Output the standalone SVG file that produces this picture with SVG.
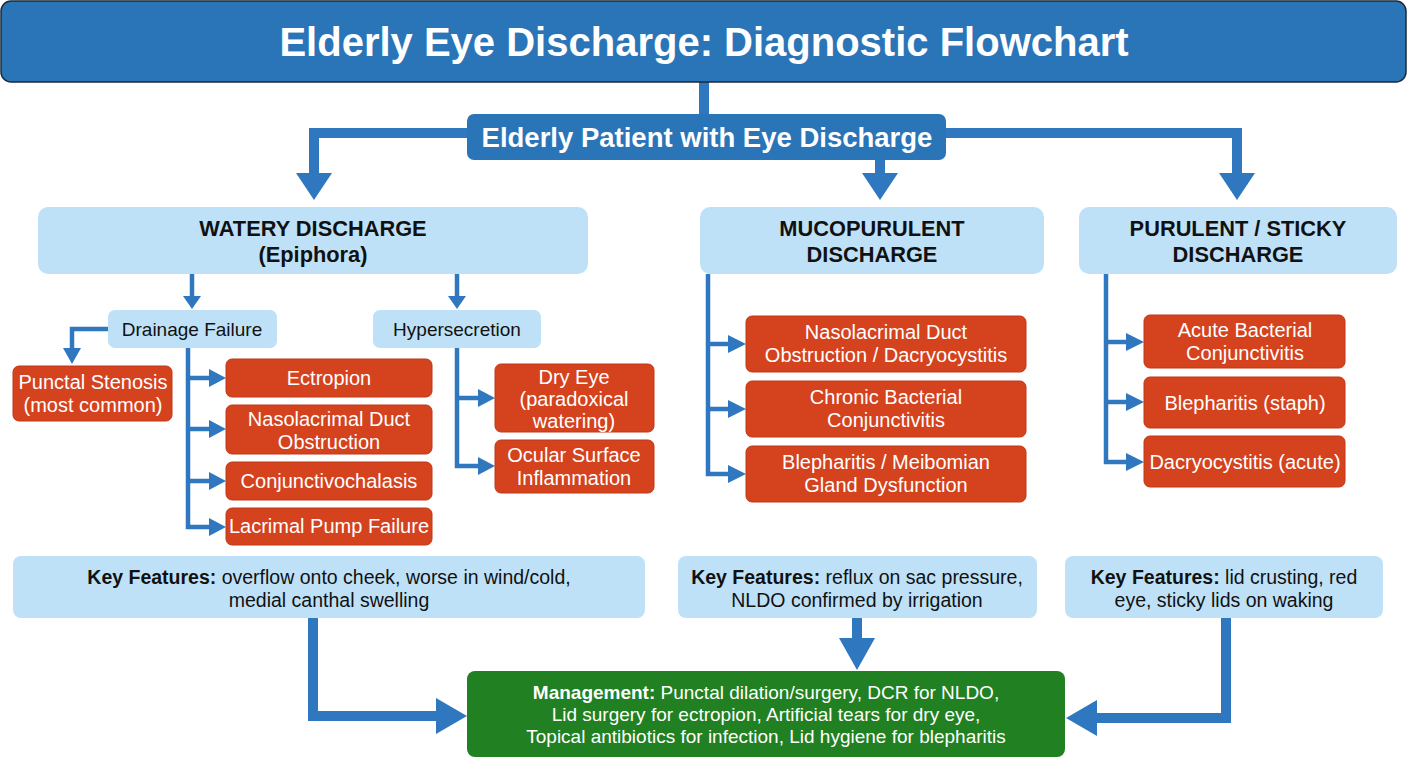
<svg xmlns="http://www.w3.org/2000/svg" width="1408" height="768" viewBox="0 0 1408 768">
<style>
text{font-family:"Liberation Sans",Arial,sans-serif;text-anchor:middle}
.title{fill:#2a74b8;stroke:#1b2a3a;stroke-width:1.5}
.blue{fill:#2a74b8}
.lb{fill:#bfe1f8}
.red{fill:#d4421e;stroke:#bf3817;stroke-width:1}
.green{fill:#218021}
.wt{fill:#fff;font-size:20px}
.mt{fill:#fff;font-size:19px}
.bt{fill:#111;font-size:19px}
.hd{fill:#111;font-size:21.8px;font-weight:bold}
.kf{fill:#111;font-size:19.5px}
.thick{fill:none;stroke:#2f78bf;stroke-width:10}
.thin{fill:none;stroke:#2f78bf;stroke-width:4.5}
.ah{fill:#2f78bf}
</style>
<rect width="1408" height="768" fill="#fff"/>
<g id="connectors">
<line class="thick" x1="704" y1="82" x2="704" y2="116"/>
<polyline class="thick" points="468,133 314,133 314,176"/>
<polygon class="ah" points="296,173 332,173 314,200"/>
<line class="thick" x1="880" y1="158" x2="880" y2="176"/>
<polygon class="ah" points="862,173 898,173 880,200"/>
<polyline class="thick" points="945,133 1237,133 1237,176"/>
<polygon class="ah" points="1219,173 1255,173 1237,200"/>
<line class="thin" x1="192" y1="274" x2="192" y2="299"/>
<polygon class="ah" points="183,296 201,296 192,309"/>
<line class="thin" x1="457" y1="274" x2="457" y2="299"/>
<polygon class="ah" points="448,296 466,296 457,309"/>
<polyline class="thin" points="110,329 72,329 72,351"/>
<polygon class="ah" points="63,348 81,348 72,364"/>
<polyline class="thin" points="188,348 188,527 212,527"/>
<line class="thin" x1="188" y1="378" x2="212" y2="378"/>
<line class="thin" x1="188" y1="429" x2="212" y2="429"/>
<line class="thin" x1="188" y1="481" x2="212" y2="481"/>
<polygon class="ah" points="209,369 209,387 226,378"/>
<polygon class="ah" points="209,420 209,438 226,429"/>
<polygon class="ah" points="209,472 209,490 226,481"/>
<polygon class="ah" points="209,518 209,536 226,527"/>
<polyline class="thin" points="457,348 457,466 481,466"/>
<line class="thin" x1="457" y1="398" x2="481" y2="398"/>
<polygon class="ah" points="478,389 478,407 495,398"/>
<polygon class="ah" points="478,457 478,475 495,466"/>
<polyline class="thin" points="708,274 708,474 731,474"/>
<line class="thin" x1="708" y1="344" x2="731" y2="344"/>
<line class="thin" x1="708" y1="409" x2="731" y2="409"/>
<polygon class="ah" points="728,335 728,353 746,344"/>
<polygon class="ah" points="728,400 728,418 746,409"/>
<polygon class="ah" points="728,465 728,483 746,474"/>
<polyline class="thin" points="1106,274 1106,462 1129,462"/>
<line class="thin" x1="1106" y1="342" x2="1129" y2="342"/>
<line class="thin" x1="1106" y1="402" x2="1129" y2="402"/>
<polygon class="ah" points="1126,333 1126,351 1144,342"/>
<polygon class="ah" points="1126,393 1126,411 1144,402"/>
<polygon class="ah" points="1126,453 1126,471 1144,462"/>
<polyline class="thick" points="313,618 313,716 439,716"/>
<polygon class="ah" points="436,698 436,734 467,716"/>
<line class="thick" x1="857" y1="618" x2="857" y2="641"/>
<polygon class="ah" points="839,638 875,638 857,670"/>
<polyline class="thick" points="1226,618 1226,718 1094,718"/>
<polygon class="ah" points="1097,700 1097,736 1066,718"/>
</g>
<g id="title"><rect class="title" x="1" y="1" width="1405" height="81" rx="10"/><text x="704" y="56" fill="#fff" font-size="40" font-weight="bold">Elderly Eye Discharge: Diagnostic Flowchart</text></g>
<g id="patient"><rect class="blue" x="467" y="114" width="479" height="46" rx="7"/><text x="707" y="147" fill="#fff" font-size="27.5" font-weight="bold">Elderly Patient with Eye Discharge</text></g>
<g id="watery"><rect class="lb" x="38" y="207" width="550" height="67" rx="10"/><text class="hd" x="313" y="236">WATERY DISCHARGE</text><text class="hd" x="313" y="262">(Epiphora)</text></g>
<g id="muco"><rect class="lb" x="700" y="207" width="344" height="67" rx="10"/><text class="hd" x="872" y="236">MUCOPURULENT</text><text class="hd" x="872" y="262">DISCHARGE</text></g>
<g id="purulent"><rect class="lb" x="1079" y="207" width="318" height="67" rx="10"/><text class="hd" x="1238" y="236">PURULENT / STICKY</text><text class="hd" x="1238" y="262">DISCHARGE</text></g>
<g id="drainage"><rect class="lb" x="108" y="310" width="169" height="38" rx="7"/><text class="bt" x="192" y="336">Drainage Failure</text></g>
<g id="hyper"><rect class="lb" x="373" y="310" width="168" height="38" rx="7"/><text class="bt" x="457" y="336">Hypersecretion</text></g>
<g id="punctal"><rect class="red" x="13" y="366" width="159" height="55" rx="6"/><text class="wt" x="93" y="389">Punctal Stenosis</text><text class="wt" x="93" y="412">(most common)</text></g>
<g id="ectropion"><rect class="red" x="226" y="359" width="206" height="38" rx="6"/><text class="wt" x="329" y="385">Ectropion</text></g>
<g id="nldo"><rect class="red" x="226" y="405" width="206" height="49" rx="6"/><text class="wt" x="329" y="426">Nasolacrimal Duct</text><text class="wt" x="329" y="449">Obstruction</text></g>
<g id="conjunctivochalasis"><rect class="red" x="226" y="462" width="206" height="38" rx="6"/><text class="wt" x="329" y="488">Conjunctivochalasis</text></g>
<g id="pump"><rect class="red" x="226" y="508" width="206" height="37" rx="6"/><text class="wt" x="329" y="533">Lacrimal Pump Failure</text></g>
<g id="dryeye"><rect class="red" x="495" y="364" width="159" height="68" rx="6"/><text class="wt" x="574" y="384">Dry Eye</text><text class="wt" x="574" y="406">(paradoxical</text><text class="wt" x="574" y="428">watering)</text></g>
<g id="ocular"><rect class="red" x="495" y="440" width="159" height="53" rx="6"/><text class="wt" x="574" y="462">Ocular Surface</text><text class="wt" x="574" y="485">Inflammation</text></g>
<g id="muco1"><rect class="red" x="746" y="316" width="280" height="56" rx="6"/><text class="wt" x="886" y="339">Nasolacrimal Duct</text><text class="wt" x="886" y="362">Obstruction / Dacryocystitis</text></g>
<g id="muco2"><rect class="red" x="746" y="381" width="280" height="56" rx="6"/><text class="wt" x="886" y="404">Chronic Bacterial</text><text class="wt" x="886" y="427">Conjunctivitis</text></g>
<g id="muco3"><rect class="red" x="746" y="446" width="280" height="56" rx="6"/><text class="wt" x="886" y="469">Blepharitis / Meibomian</text><text class="wt" x="886" y="492">Gland Dysfunction</text></g>
<g id="pur1"><rect class="red" x="1144" y="315" width="201" height="53" rx="6"/><text class="wt" x="1245" y="337">Acute Bacterial</text><text class="wt" x="1245" y="360">Conjunctivitis</text></g>
<g id="pur2"><rect class="red" x="1144" y="377" width="201" height="51" rx="6"/><text class="wt" x="1245" y="410">Blepharitis (staph)</text></g>
<g id="pur3"><rect class="red" x="1144" y="436" width="201" height="51" rx="6"/><text class="wt" x="1245" y="469">Dacryocystitis (acute)</text></g>
<g id="kf1"><rect class="lb" x="13" y="556" width="632" height="62" rx="8"/><text class="kf" x="329" y="584"><tspan font-weight="bold">Key Features:</tspan> overflow onto cheek, worse in wind/cold,</text><text class="kf" x="329" y="607">medial canthal swelling</text></g>
<g id="kf2"><rect class="lb" x="678" y="556" width="359" height="62" rx="8"/><text class="kf" x="857" y="584"><tspan font-weight="bold">Key Features:</tspan> reflux on sac pressure,</text><text class="kf" x="857" y="607">NLDO confirmed by irrigation</text></g>
<g id="kf3"><rect class="lb" x="1065" y="556" width="318" height="62" rx="8"/><text class="kf" x="1224" y="584"><tspan font-weight="bold">Key Features:</tspan> lid crusting, red</text><text class="kf" x="1224" y="607">eye, sticky lids on waking</text></g>
<g id="management"><rect class="green" x="467" y="671" width="598" height="86" rx="8"/><text class="mt" x="766" y="699"><tspan font-weight="bold">Management:</tspan> Punctal dilation/surgery, DCR for NLDO,</text><text class="mt" x="766" y="721">Lid surgery for ectropion, Artificial tears for dry eye,</text><text class="mt" x="766" y="743">Topical antibiotics for infection, Lid hygiene for blepharitis</text></g>
</svg>
